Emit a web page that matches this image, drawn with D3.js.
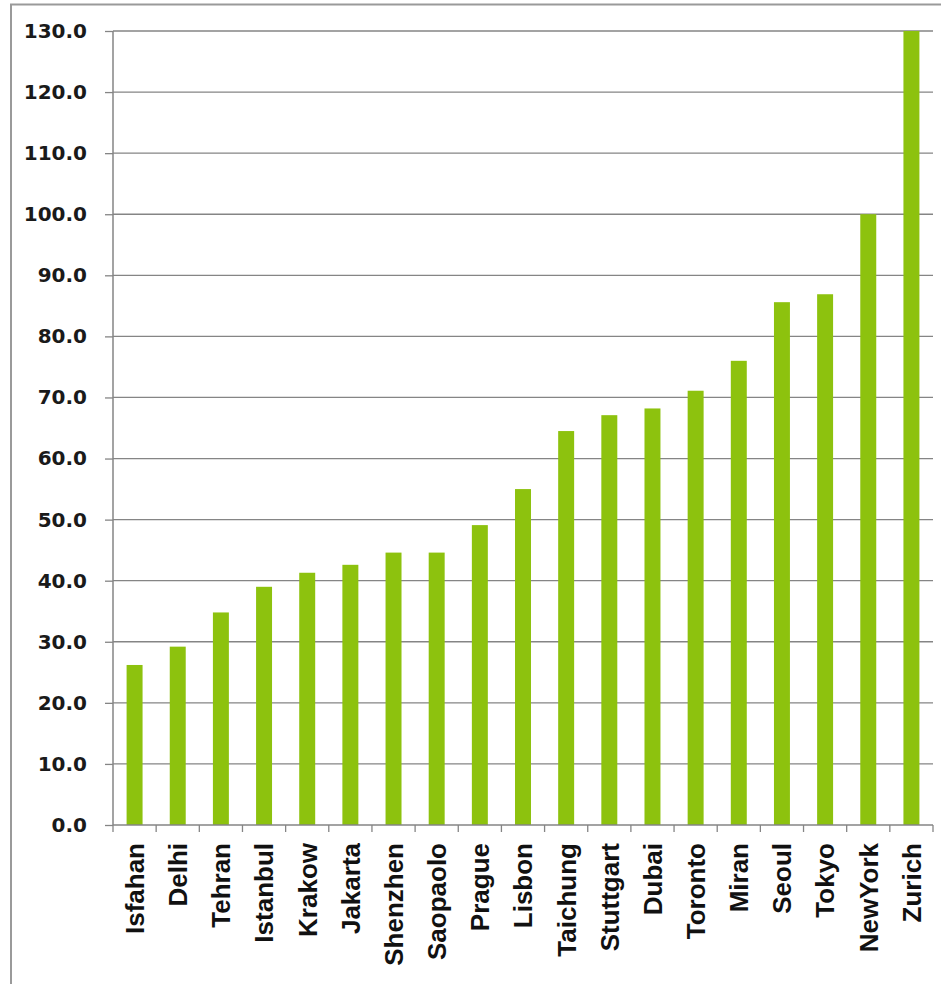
<!DOCTYPE html>
<html><head><meta charset="utf-8">
<script src="https://cdn.jsdelivr.net/npm/d3@7"></script>
<style>body{margin:0;background:#fff;}svg{display:block;}</style>
</head><body>
<script>
const cities = ["Isfahan","Delhi","Tehran","Istanbul","Krakow","Jakarta","Shenzhen","Saopaolo","Prague","Lisbon","Taichung","Stuttgart","Dubai","Toronto","Miran","Seoul","Tokyo","NewYork","Zurich"];
const values = [26.2,29.2,34.8,39.0,41.3,42.6,44.6,44.6,49.1,55.0,64.5,67.1,68.2,71.1,76.0,85.6,86.9,100.0,130.0];
const yTicks = [0,10,20,30,40,50,60,70,80,90,100,110,120,130];

const W = 941, H = 984;
const m = {left:113, right:8, top:31, bottom:159};
const svg = d3.select("body").append("svg").attr("width",W).attr("height",H);

// outer frame
svg.append("rect").attr("x",11).attr("y",4.5).attr("width",W+10).attr("height",H+10)
  .attr("fill","none").attr("stroke","#9a9a9a").attr("stroke-width",2);

const x = d3.scaleBand().domain(cities).range([m.left, W-m.right]).paddingInner(0.63).paddingOuter(0.315);
const y = d3.scaleLinear().domain([0,130]).range([H-m.bottom, m.top]);

// gridlines
svg.append("g").selectAll("line").data(yTicks.filter(d=>d>0)).join("line")
  .attr("x1",m.left).attr("x2",W-m.right)
  .attr("y1",d=>y(d)).attr("y2",d=>y(d))
  .attr("stroke","#858585").attr("stroke-width",1.3);

// bars
svg.append("g").selectAll("rect").data(values).join("rect")
  .attr("x",(d,i)=>x(cities[i])).attr("width",x.bandwidth())
  .attr("y",d=>y(d)).attr("height",d=>y(0)-y(d))
  .attr("fill","#8dc20e");

// y axis
const yAxis = svg.append("g").attr("transform",`translate(${m.left},0)`)
  .call(d3.axisLeft(y).tickValues(yTicks).tickFormat(d3.format(".1f")).tickSize(8).tickPadding(18));
yAxis.select(".domain").attr("stroke","#858585").attr("stroke-width",1.5).attr("d",`M0,${y(130)}V${y(0)}`);
yAxis.selectAll(".tick line").attr("stroke","#858585").attr("stroke-width",1.3);
yAxis.selectAll("text").attr("font-family","DejaVu Sans").attr("font-weight","bold")
  .attr("font-size",20).attr("fill","#1a1a1a");

// x axis
const xAxis = svg.append("g").attr("transform",`translate(0,${y(0)})`)
  .call(d3.axisBottom(x).tickSize(0).tickPadding(0));
xAxis.select(".domain").attr("stroke","#858585").attr("stroke-width",1.5).attr("d",`M${m.left},0H${W-m.right}`);
// boundary ticks between categories
const bounds = d3.range(cities.length+1).map(i=>m.left + (W-m.right-m.left)*i/cities.length);
xAxis.append("g").selectAll("line").data(bounds).join("line")
  .attr("x1",d=>d).attr("x2",d=>d).attr("y1",0).attr("y2",7)
  .attr("stroke","#858585").attr("stroke-width",1.3);
xAxis.selectAll(".tick text")
  .attr("transform","rotate(-90)")
  .attr("text-anchor","end")
  .attr("x",-18).attr("y",0).attr("dy","0.36em")
  .attr("font-family","Liberation Sans, Arial, sans-serif").attr("font-weight","bold")
  .attr("font-size",26).attr("fill","#111");
</script>
</body></html>
